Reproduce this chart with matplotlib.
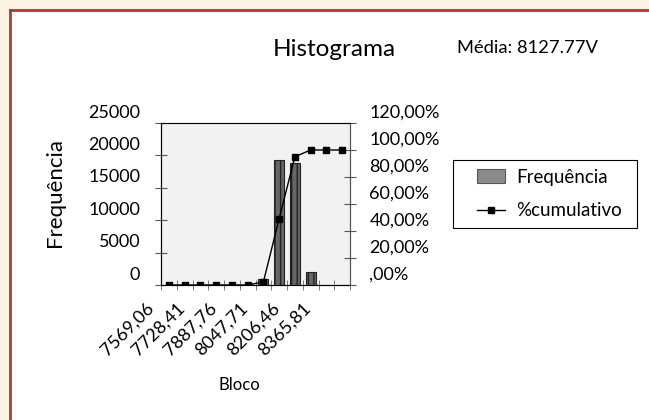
import numpy as np
import matplotlib.pyplot as plt
from matplotlib.patches import Rectangle, Patch
from matplotlib.lines import Line2D
from matplotlib.transforms import ScaledTranslation

# dados do histograma (12 blocos, rótulos em blocos alternados)
freq = [0, 0, 0, 0, 0, 0, 900, 19240, 18840, 2060, 0, 0]
cumul = [0, 0, 0, 0, 0, 0, 2.2, 49.1, 95.0, 100, 100, 100]
bloco_labels = ["7569,06", "7728,41", "7887,76", "8047,71", "8206,46", "8365,81"]
freq_ticks = [0, 5000, 10000, 15000, 20000, 25000]
pct_ticks = [0, 20, 40, 60, 80, 100, 120]
pct_labels = [",00%", "20,00%", "40,00%", "60,00%", "80,00%", "100,00%", "120,00%"]

plt.rcParams['font.family'] = ['Lato', 'DejaVu Sans']

W, H = 649, 420
fig = plt.figure(figsize=(W / 100, H / 100), dpi=100)
fig.patch.set_facecolor('#fdf3e4')

# moldura branca com borda vermelha em cima e à esquerda
fig.add_artist(Rectangle((10 / W, 0), 1, 1 - 10 / H, transform=fig.transFigure,
                         facecolor='white', edgecolor='none', zorder=0))
fig.add_artist(Line2D([10 / W, 10 / W], [0, 1 - 10 / H], transform=fig.transFigure,
                      color='#b03838', lw=2, zorder=1))
fig.add_artist(Line2D([10 / W, 1], [1 - 10 / H, 1 - 10 / H], transform=fig.transFigure,
                      color='#b03838', lw=2, zorder=1))

ax = fig.add_axes([161 / W, 1 - 285 / H, 189 / W, 162 / H])
ax.set_facecolor('#f2f2f2')
x = np.arange(len(freq))
ax.bar(x, freq, width=0.62, color='#666666', edgecolor='#222222', hatch='|||',
       linewidth=0.8, zorder=2)
ax.set_xlim(-0.5, len(freq) - 0.5)
ax.set_ylim(0, 25000)
ax.set_yticks(freq_ticks)
ax.set_yticklabels([str(v) for v in freq_ticks], fontsize=13)
ax.set_xticks(x[::2])
ax.set_xticklabels(bloco_labels, rotation=45, ha='right', va='center',
                   rotation_mode='anchor', fontsize=13)
ax.set_xticks(np.arange(-0.5, len(freq)), minor=True)
ax.tick_params(axis='x', which='major', length=0, pad=15)
ax.tick_params(axis='x', which='minor', direction='inout', length=7, color='#666')
ax.tick_params(axis='y', direction='inout', length=8, color='#555', pad=11)
for s in ['left', 'right']:
    ax.spines[s].set_color('#555')
ax.spines['bottom'].set_color('#666')
ax.spines['top'].set_color('#999')
ax.spines['top'].set_linewidth(0.6)

ax2 = ax.twinx()
ax2.plot(x, cumul, color='black', lw=1, marker='s', markersize=5, zorder=3)
ax2.set_ylim(0, 120)
ax2.set_yticks(pct_ticks)
ax2.set_yticklabels(pct_labels, fontsize=13)
ax2.tick_params(axis='y', direction='inout', length=8, color='#555', pad=10)
ax2.spines['right'].set_color('#555')

# rótulos de eixo um pouco acima das marcas
up = ScaledTranslation(0, 12 / 100, fig.dpi_scale_trans)
for lab in ax.get_yticklabels() + ax2.get_yticklabels():
    lab.set_transform(lab.get_transform() + up)
left = ScaledTranslation(-18 / 100, 0, fig.dpi_scale_trans)
for lab in ax.get_xticklabels():
    lab.set_transform(lab.get_transform() + left)

fig.text(55 / W, 1 - 193 / H, "Frequência", rotation=90, ha='center', va='center', fontsize=16)
fig.text(239 / W, 1 - 385 / H, "Bloco", ha='center', va='center', fontsize=12)
fig.text(334 / W, 1 - 50 / H, "Histograma", ha='center', va='center', fontsize=17.5)
fig.text(457 / W, 1 - 48 / H, "Média: 8127.77V", ha='left', va='center', fontsize=13.2)

# legenda sem moldura própria, com caixa desenhada à parte
handles = [Patch(facecolor='#8a8a8a', edgecolor='#555', linewidth=0.8),
           Line2D([], [], color='black', lw=1, marker='s', markersize=5)]
fig.legend(handles, ["Frequência", "%cumulativo"], loc='center left',
           bbox_to_anchor=(477 / W, 1 - 194 / H), frameon=False, fontsize=13.5,
           borderaxespad=0, borderpad=0, handlelength=1.5, handletextpad=0.6,
           labelspacing=0.9)
fig.add_artist(Rectangle((453 / W, 1 - 228 / H), 184 / W, 68 / H, transform=fig.transFigure,
                         facecolor='white', edgecolor='black', lw=0.8, zorder=0.5))

fig.savefig('out.png', dpi=100, facecolor=fig.get_facecolor())
